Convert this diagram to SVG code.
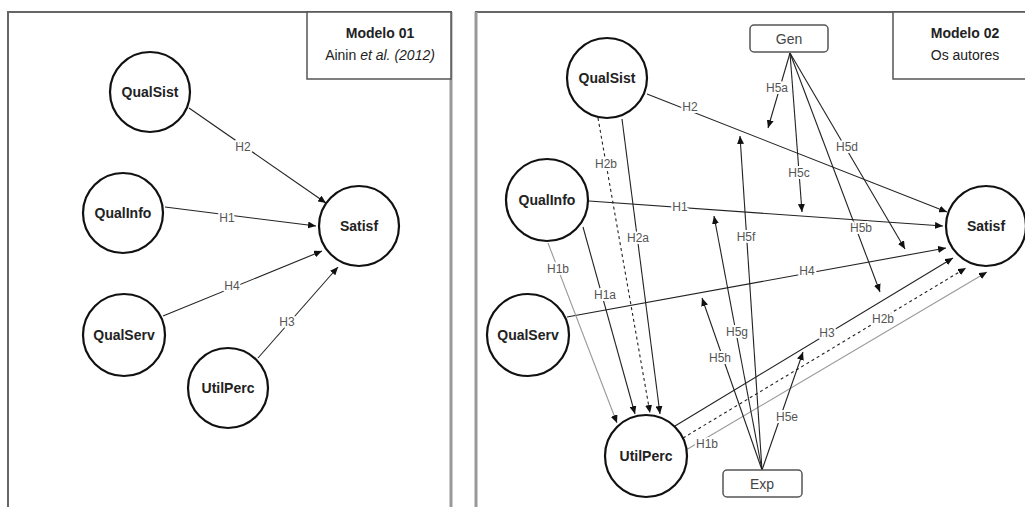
<svg xmlns="http://www.w3.org/2000/svg" width="1025" height="507" viewBox="0 0 1025 507">
<defs>
<marker id="ah" viewBox="0 0 8 7" refX="8" refY="3.5" markerWidth="8" markerHeight="7" markerUnits="userSpaceOnUse" orient="auto">
<path d="M0,0 L8,3.5 L0,7 z" fill="#111"/>
</marker>
</defs>
<style>
.panel{fill:#fff;stroke:#666;stroke-width:2}
.box{fill:#fff;stroke:#555;stroke-width:1.5}
.node{fill:#fff;stroke:#111;stroke-width:2.2}
.nt{font-family:"Liberation Sans",Arial,sans-serif;font-size:14px;font-weight:bold;fill:#222;text-anchor:middle;dominant-baseline:central}
.bt{font-family:"Liberation Sans",Arial,sans-serif;font-size:14px;fill:#444;text-anchor:middle;dominant-baseline:central}
.e{fill:none;stroke:#222;stroke-width:1.1;marker-end:url(#ah)}
.d{stroke-dasharray:3 3}
.g{stroke:#999}
.lb{font-family:"Liberation Sans",Arial,sans-serif;font-size:12px;fill:#555;text-anchor:middle;dominant-baseline:central;paint-order:stroke;stroke:#fff;stroke-width:4px;stroke-linejoin:round}
.tt{font-family:"Liberation Sans",Arial,sans-serif;font-size:14px;fill:#222;text-anchor:middle}
</style>
<rect width="1025" height="507" fill="#fff"/>
<g id="panel1">
<rect class="panel" x="8" y="12" width="443" height="510"/>
<line x1="451" y1="12" x2="451" y2="507" stroke="#999" stroke-width="3"/>
<rect class="box" x="307" y="12" width="144" height="67"/>
<text class="tt" x="380" y="38" font-weight="bold">Modelo 01</text>
<text class="tt" x="380" y="60" fill="#444">Ainin <tspan font-style="italic">et al. (2012)</tspan></text>
</g>
<g id="panel2">
<rect class="panel" x="476" y="12" width="560" height="510"/>
<line x1="476" y1="12" x2="476" y2="507" stroke="#999" stroke-width="3"/>
<rect class="box" x="893" y="12" width="140" height="67"/>
<text class="tt" x="965" y="38" font-weight="bold">Modelo 02</text>
<text class="tt" x="965" y="60" fill="#444">Os autores</text>
</g>
<g id="connectors">
<line class="e" x1="189" y1="108" x2="326" y2="203"/>
<line class="e" x1="165" y1="207" x2="316" y2="226"/>
<line class="e" x1="163" y1="316" x2="322" y2="251"/>
<line class="e" x1="258" y1="358" x2="338" y2="267"/>
<line class="e" x1="647" y1="94" x2="947" y2="212"/>
<line class="e" x1="589" y1="201" x2="943" y2="226"/>
<line class="e" x1="567" y1="317" x2="946" y2="248"/>
<line class="e" x1="675" y1="426" x2="953" y2="258"/>
<line class="e d" x1="683" y1="438" x2="966" y2="268"/>
<line class="e g" x1="686" y1="450" x2="987" y2="272"/>
<line class="e d" x1="598" y1="118" x2="650" y2="413"/>
<line class="e" x1="622" y1="119" x2="660" y2="414"/>
<line class="e" x1="583" y1="227" x2="635" y2="414"/>
<line class="e g" x1="548" y1="243" x2="617" y2="423"/>
<line class="e" x1="790" y1="53" x2="768" y2="128"/>
<line class="e" x1="790" y1="53" x2="802" y2="212"/>
<line class="e" x1="790" y1="53" x2="905" y2="249"/>
<line class="e" x1="790" y1="53" x2="880" y2="292"/>
<line class="e" x1="762" y1="470" x2="803" y2="352"/>
<line class="e" x1="762" y1="470" x2="740" y2="136"/>
<line class="e" x1="762" y1="470" x2="714" y2="216"/>
<line class="e" x1="762" y1="470" x2="702" y2="298"/>
<text class="lb" x="243" y="147">H2</text>
<text class="lb" x="227" y="218">H1</text>
<text class="lb" x="232" y="286">H4</text>
<text class="lb" x="287" y="322">H3</text>
<text class="lb" x="690" y="107">H2</text>
<text class="lb" x="680" y="207">H1</text>
<text class="lb" x="807" y="271">H4</text>
<text class="lb" x="827" y="333">H3</text>
<text class="lb" x="883" y="319">H2b</text>
<text class="lb" x="707" y="444">H1b</text>
<text class="lb" x="606" y="164">H2b</text>
<text class="lb" x="638" y="238">H2a</text>
<text class="lb" x="605" y="295">H1a</text>
<text class="lb" x="558" y="269">H1b</text>
<text class="lb" x="777" y="88">H5a</text>
<text class="lb" x="799" y="173">H5c</text>
<text class="lb" x="847" y="147">H5d</text>
<text class="lb" x="861" y="228">H5b</text>
<text class="lb" x="746" y="237">H5f</text>
<text class="lb" x="737" y="332">H5g</text>
<text class="lb" x="720" y="358">H5h</text>
<text class="lb" x="787" y="417">H5e</text>
</g>
<g id="m1-qualsist"><circle class="node" cx="150" cy="92" r="40"/><text class="nt" x="150" y="92">QualSist</text></g>
<g id="m1-qualinfo"><circle class="node" cx="123" cy="213" r="40"/><text class="nt" x="123" y="213">QualInfo</text></g>
<g id="m1-satisf"><circle class="node" cx="359" cy="226" r="40"/><text class="nt" x="359" y="226">Satisf</text></g>
<g id="m1-qualserv"><circle class="node" cx="124" cy="335" r="41"/><text class="nt" x="124" y="335">QualServ</text></g>
<g id="m1-utilperc"><circle class="node" cx="228" cy="388" r="40"/><text class="nt" x="228" y="388">UtilPerc</text></g>
<g id="m2-qualsist"><circle class="node" cx="607" cy="78" r="40"/><text class="nt" x="607" y="78">QualSist</text></g>
<g id="m2-qualinfo"><circle class="node" cx="547" cy="200" r="41"/><text class="nt" x="547" y="200">QualInfo</text></g>
<g id="m2-qualserv"><circle class="node" cx="528" cy="335" r="41"/><text class="nt" x="528" y="335">QualServ</text></g>
<g id="m2-utilperc"><circle class="node" cx="646" cy="456" r="41"/><text class="nt" x="646" y="456">UtilPerc</text></g>
<g id="m2-satisf"><circle class="node" cx="986" cy="226" r="40"/><text class="nt" x="986" y="226">Satisf</text></g>
<g id="m2-gen"><rect class="box" x="750" y="25" width="78" height="27" rx="4"/><text class="bt" x="789" y="38.5">Gen</text></g>
<g id="m2-exp"><rect class="box" x="723" y="470" width="79" height="27" rx="4"/><text class="bt" x="762" y="483.5">Exp</text></g>
</svg>
